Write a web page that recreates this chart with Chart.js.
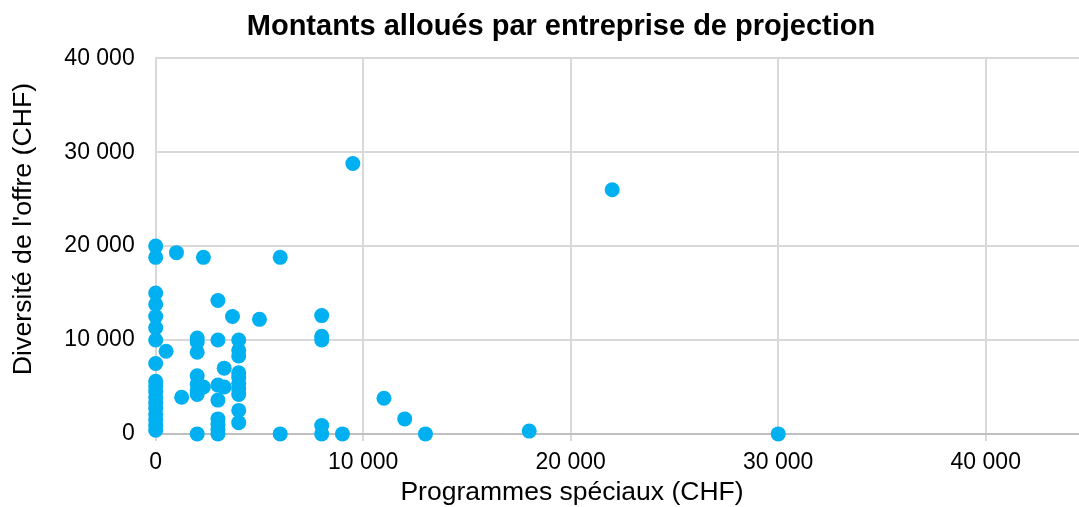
<!DOCTYPE html>
<html lang="fr">
<head>
<meta charset="utf-8">
<script src="https://cdn.jsdelivr.net/npm/chart.js@4/dist/chart.umd.min.js"></script>
<style>
  html, body { margin: 0; padding: 0; background: #fff; overflow: hidden; }
  #wrap { width: 1122px; height: 507px; }
</style>
</head>
<body>
<div id="wrap"><canvas id="chart" width="1122" height="507"></canvas></div>
<script>
const chartTitle = "Montants alloués par entreprise de projection";
const xAxisTitle = "Programmes spéciaux (CHF)";
const yAxisTitle = "Diversité de l'offre (CHF)";

// une entreprise = un point (x: programmes spéciaux, y: diversité de l'offre)
const progSpeciaux = [
  0, 0, 0, 0, 0, 0, 0, 0, 0, 0, 0, 0, 0, 0, 0, 0, 0, 0,
  500, 1000, 1250,
  2000, 2000, 2000, 2000, 2000, 2000, 2000, 2000, 2300, 2300,
  3000, 3000, 3000, 3000, 3000, 3000, 3000, 3000, 3300, 3300,
  3700, 4000, 4000, 4000, 4000, 4000, 4000, 4000, 4000, 4000, 4000,
  5000, 6000, 6000,
  8000, 8000, 8000, 8000, 8000, 9000, 9500,
  11000, 12000, 13000, 18000, 22000, 30000
];
const diversiteOffre = [
  20000, 18800, 15000, 13800, 12500, 11300, 10000, 7500, 5600, 5100, 4500, 3900, 3300, 2700, 2100, 1500, 900, 400,
  8800, 19300, 3900,
  10200, 9800, 8700, 6200, 5300, 4600, 4200, 0, 5000, 18800,
  14200, 10000, 5200, 3600, 1600, 1000, 500, 0, 7000, 5000,
  12500, 10000, 8900, 8300, 6500, 6000, 5400, 4800, 4200, 2500, 1200,
  12200, 18800, 0,
  12600, 10400, 10000, 900, 0, 0, 28800,
  3800, 1600, 0, 300, 26000, 0
];

const xTicks = [0, 10000, 20000, 30000, 40000];
const yTicks = [0, 10000, 20000, 30000, 40000];

const fontFamily = '"Liberation Sans", Arial, sans-serif';
const fmt = v => String(v).replace(/\B(?=(\d{3})+(?!\d))/g, " ");

const points = progSpeciaux.map((x, i) => ({ x, y: diversiteOffre[i] }));

// titres des axes dessinés à la main (placés comme dans Excel, pas centrés sur la zone de tracé)
const axisTitlesPlugin = {
  id: "axisTitles",
  afterDraw(chart) {
    const ctx = chart.ctx;
    ctx.save();
    ctx.fillStyle = "#000";
    ctx.textAlign = "center";
    ctx.font = "26.5px " + fontFamily;
    ctx.textBaseline = "alphabetic";
    ctx.fillText(xAxisTitle, 572, 500);

    ctx.font = "26.7px " + fontFamily;
    ctx.textBaseline = "middle";
    ctx.translate(24, 229);
    ctx.rotate(-Math.PI / 2);
    ctx.fillText(yAxisTitle, 0, 0);
    ctx.restore();
  }
};

new Chart(document.getElementById("chart"), {
  type: "scatter",
  data: {
    datasets: [{
      data: points,
      backgroundColor: "#00B0F0",
      borderWidth: 0,
      pointRadius: 7.5,
      pointHoverRadius: 7.5,
      clip: false
    }]
  },
  options: {
    responsive: false,
    animation: false,
    events: [],
    layout: { padding: { left: 32.5, right: 32.5, bottom: 22.5, top: 0 } },
    plugins: {
      legend: { display: false },
      tooltip: { enabled: false },
      title: {
        display: true,
        text: chartTitle,
        color: "#000",
        font: { family: fontFamily, size: 29, weight: "bold" },
        padding: { top: 10, bottom: 13.5 }
      }
    },
    scales: {
      x: {
        type: "linear",
        min: 0,
        max: 45000,
        afterBuildTicks: axis => { axis.ticks = xTicks.map(value => ({ value })); },
        ticks: {
          color: "#000",
          font: { family: fontFamily, size: 23 },
          padding: 8,
          maxRotation: 0,
          callback: v => fmt(v)
        },
        grid: { color: "#d9d9d9", lineWidth: 2, tickLength: 7, drawTicks: true },
        border: { color: "#bfbfbf", width: 2 }
      },
      y: {
        type: "linear",
        min: 0,
        max: 40000,
        afterBuildTicks: axis => { axis.ticks = yTicks.map(value => ({ value })); },
        afterFit: scale => { scale.width = 123.2; },
        ticks: {
          color: "#000",
          font: { family: fontFamily, size: 23 },
          padding: 21,
          callback: v => fmt(v)
        },
        grid: { color: "#d9d9d9", lineWidth: 2, drawTicks: false },
        border: { color: "#d9d9d9", width: 2 }
      }
    }
  },
  plugins: [axisTitlesPlugin]
});
</script>
</body>
</html>
